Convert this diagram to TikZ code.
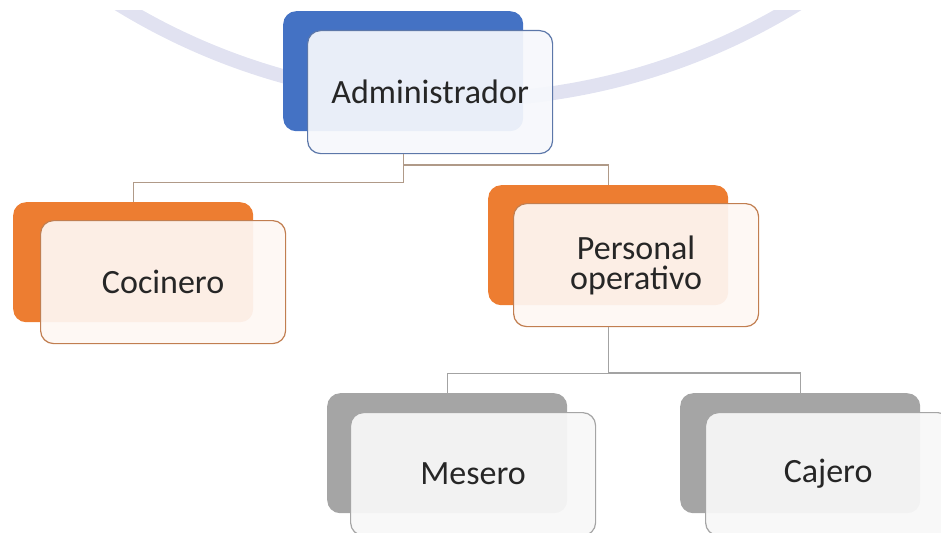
\documentclass[tikz,border=0pt]{standalone}
\usepackage{fontspec}
\setmainfont{Carlito}
\usetikzlibrary{positioning}
\definecolor{accblue}{HTML}{4472C4}
\definecolor{accorange}{HTML}{ED7D31}
\definecolor{accgray}{HTML}{A5A5A5}
\definecolor{wmark}{HTML}{E1E2F1}
\definecolor{txtgray}{HTML}{262626}
\definecolor{linkbrown}{HTML}{B09A88}
\definecolor{linkgray}{HTML}{A3A3A3}

\begin{document}
\begin{tikzpicture} [x = 1pt, y = -1pt,
  back/.style = {rectangle, rounded corners = 13pt, minimum width = 240pt,
    minimum height = 120pt, inner sep = 0pt, anchor = north west},
  front/.style = {rectangle, rounded corners = 13pt, minimum width = 245pt,
    minimum height = 123pt, inner sep = 0pt, line width = 1.2pt,
    fill opacity = .93, text opacity = 1, text = txtgray, align = center,
    font = \fontsize{34}{30}\selectfont},
  toplink/.style = {draw = linkbrown, line width = 1.1pt},
  sublink/.style = {draw = linkgray, line width = 1.1pt}]
\useasboundingbox (0,0) rectangle (941,532);
\begin{scope}
\clip (0,11) rectangle (941,532);
\draw [wmark, line width = 14pt] (458,-549) circle (649pt);
\end{scope}
\node (adm-bk) [back, fill = accblue] at (283,11) {};
\node (coc-bk) [back, fill = accorange] at (13,202) {};
\node (per-bk) [back, fill = accorange] at (488,185) {};
\node (mes-bk) [back, fill = accgray] at (327,393) {};
\node (caj-bk) [back, fill = accgray] at (680,393) {};
\node (adm) [front, below right = 19pt and 24pt of adm-bk.north west, anchor = north west,
  draw = accblue!75!black!80, fill = accblue!5] {Administrador};
\node (coc) [front, below right = 18pt and 27pt of coc-bk.north west, anchor = north west,
  draw = accorange!60!gray, fill = accorange!6] {Cocinero};
\node (per) [front, below right = 18pt and 25pt of per-bk.north west, anchor = north west,
  draw = accorange!60!gray, fill = accorange!6] {Personal\\operativo};
\node (mes) [front, below right = 19pt and 23pt of mes-bk.north west, anchor = north west,
  draw = accgray, fill = accgray!8] {Mesero};
\node (caj) [front, below right = 19pt and 25pt of caj-bk.north west, anchor = north west,
  draw = accgray, fill = accgray!8] {Cajero};
\draw [toplink] (adm-bk.south |- adm.south) -- ++(0,28) -| (coc-bk.north);
\draw [toplink] (adm-bk.south |- 0,165) -| (per-bk.north);
\draw [sublink] (per-bk.south |- per.south) -- ++(0,46) -| (mes-bk.north);
\draw [sublink] (per-bk.south |- 0,373) -| (caj-bk.north);
\end{tikzpicture}
\end{document}
